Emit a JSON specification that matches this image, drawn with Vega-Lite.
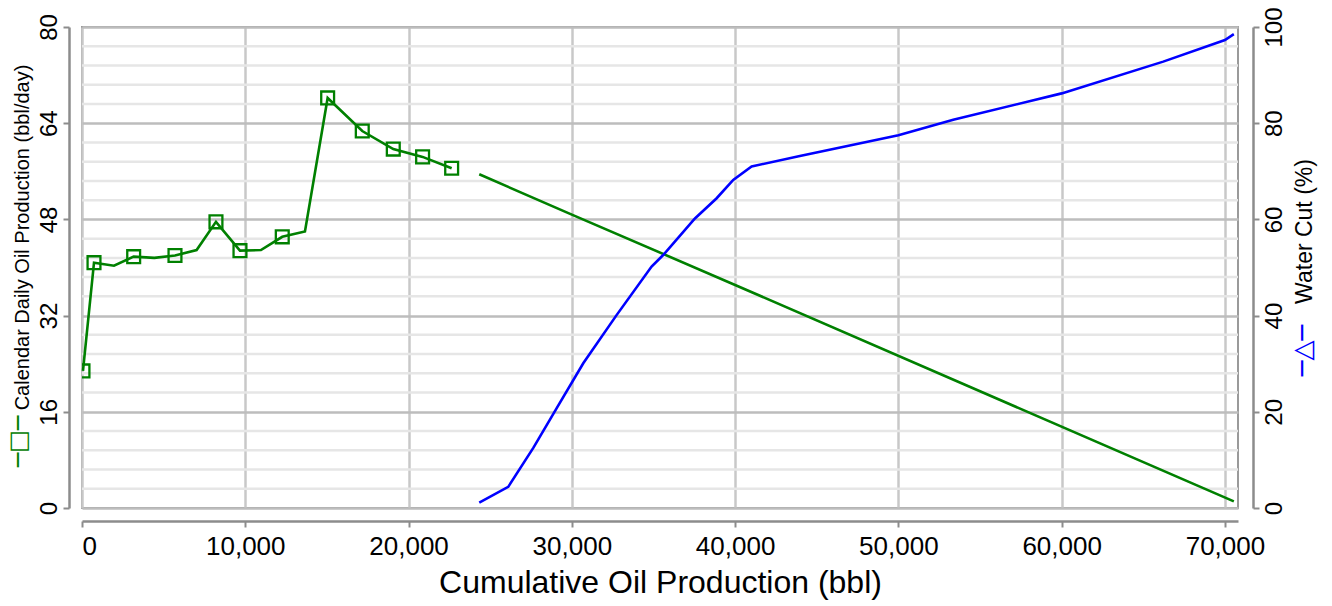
{
  "$schema": "https://vega.github.io/schema/vega-lite/v6.json",
  "width": 1156,
  "height": 481,
  "autosize": "none",
  "padding": {"left": 82, "top": 27, "right": 94, "bottom": 98},
  "config": {
    "font": "Liberation Sans",
    "view": {"stroke": "#9a9a9a", "strokeWidth": 2},
    "axis": {
      "domainColor": "#8c8c8c", "domainWidth": 2.5,
      "tickColor": "#8c8c8c", "tickWidth": 2, "tickSize": 6,
      "labelColor": "#000000", "titleColor": "#000000",
      "titleFontWeight": "normal", "labelFont": "Liberation Sans", "titleFont": "Liberation Sans"
    }
  },
  "datasets": {
    "minor": [
      {"g": 3.2}, {"g": 6.4}, {"g": 9.6}, {"g": 12.8},
      {"g": 19.2}, {"g": 22.4}, {"g": 25.6}, {"g": 28.8},
      {"g": 35.2}, {"g": 38.4}, {"g": 41.6}, {"g": 44.8},
      {"g": 51.2}, {"g": 54.4}, {"g": 57.6}, {"g": 60.8},
      {"g": 67.2}, {"g": 70.4}, {"g": 73.6}, {"g": 76.8}
    ],
    "hist": [
      {"cum": 60, "rate": 22.8, "marker": true},
      {"cum": 735, "rate": 40.8, "marker": true},
      {"cum": 1960, "rate": 40.3, "marker": false},
      {"cum": 3165, "rate": 41.8, "marker": true},
      {"cum": 4430, "rate": 41.6, "marker": false},
      {"cum": 5695, "rate": 42.0, "marker": true},
      {"cum": 7020, "rate": 42.9, "marker": false},
      {"cum": 8205, "rate": 47.6, "marker": true},
      {"cum": 9675, "rate": 42.8, "marker": true},
      {"cum": 10960, "rate": 42.9, "marker": false},
      {"cum": 12265, "rate": 45.1, "marker": true},
      {"cum": 13655, "rate": 46.0, "marker": false},
      {"cum": 15045, "rate": 68.2, "marker": true},
      {"cum": 17165, "rate": 62.7, "marker": true},
      {"cum": 19065, "rate": 59.7, "marker": true},
      {"cum": 20860, "rate": 58.4, "marker": true},
      {"cum": 22640, "rate": 56.5, "marker": true}
    ],
    "fc": [
      {"cum": 24330, "rate": 55.5},
      {"cum": 30000, "rate": 48.8},
      {"cum": 40000, "rate": 37.1},
      {"cum": 70545, "rate": 1.1}
    ],
    "wc": [
      {"cum": 24330, "wc": 1.1},
      {"cum": 26105, "wc": 4.4},
      {"cum": 27640, "wc": 12.5},
      {"cum": 29065, "wc": 20.7},
      {"cum": 30700, "wc": 30.1},
      {"cum": 32740, "wc": 40.1},
      {"cum": 34885, "wc": 50.2},
      {"cum": 35595, "wc": 52.6},
      {"cum": 37540, "wc": 60.2},
      {"cum": 38870, "wc": 64.4},
      {"cum": 39885, "wc": 68.2},
      {"cum": 41010, "wc": 71.0},
      {"cum": 43965, "wc": 73.2},
      {"cum": 50000, "wc": 77.5},
      {"cum": 53360, "wc": 80.7},
      {"cum": 60000, "wc": 86.2},
      {"cum": 66220, "wc": 92.8},
      {"cum": 70000, "wc": 97.3},
      {"cum": 70545, "wc": 98.5}
    ]
  },
  "layer": [
    {
      "layer": [
        {
          "data": {"name": "minor"},
          "mark": {"type": "rule", "color": "#e6e6e6", "strokeWidth": 2.5},
          "encoding": {
            "y": {"field": "g", "type": "quantitative"}
          }
        },
        {
          "data": {"name": "hist"},
          "mark": {"type": "line", "color": "#008000", "strokeWidth": 2.6},
          "encoding": {
            "x": {"field": "cum", "type": "quantitative", "scale": {"domain": [0, 70800], "nice": false, "zero": false},
              "axis": {"title": "Cumulative Oil Production (bbl)", "values": [0, 10000, 20000, 30000, 40000, 50000, 60000, 70000], "format": ",.0f", "offset": 13, "labelFontSize": 26, "titleFontSize": 32, "gridColor": "#c8c8c8", "gridWidth": 2.5, "labelPadding": 6, "titlePadding": 8}},
            "y": {"field": "rate", "type": "quantitative", "scale": {"domain": [0, 80], "nice": false},
              "axis": {
                "title": "Calendar Daily Oil Production (bbl/day)",
                "values": [0, 16, 32, 48, 64, 80],
                "format": ".0f",
                "labelOverlap": false,
                "gridColor": "#bdbdbd",
                "gridWidth": 2.5,
                "labelAngle": -90,
                "offset": 13,
                "labelFontSize": 24,
                "labelPadding": 2,
                "titleFontSize": 20,
                "titleAngle": -90,
                "titleAlign": "center",
                "titleBaseline": "middle",
                "titleX": -47,
                "titleY": 210
              }}
          }
        },
        {
          "data": {"name": "hist"},
          "transform": [{"filter": "datum.marker"}],
          "mark": {"type": "point", "shape": "square", "filled": false, "color": "#008000", "strokeWidth": 2.3, "size": 165, "opacity": 1, "clip": true},
          "encoding": {
            "x": {"field": "cum", "type": "quantitative"},
            "y": {"field": "rate", "type": "quantitative"}
          }
        },
        {
          "data": {"name": "fc"},
          "mark": {"type": "line", "color": "#008000", "strokeWidth": 2.6},
          "encoding": {
            "x": {"field": "cum", "type": "quantitative"},
            "y": {"field": "rate", "type": "quantitative"}
          }
        }
      ]
    },
    {
      "data": {"name": "wc"},
      "mark": {"type": "line", "color": "#0000ff", "strokeWidth": 2.6},
      "encoding": {
        "x": {"field": "cum", "type": "quantitative"},
        "y": {"field": "wc", "type": "quantitative", "scale": {"domain": [0, 100], "nice": false},
          "axis": {"orient": "right", "title": "Water Cut (%)", "values": [0, 20, 40, 60, 80, 100], "format": ".0f", "grid": false, "labelAngle": -90, "offset": 15, "labelFontSize": 24, "labelPadding": 3, "titleFontSize": 23, "titleAngle": -90, "titleAlign": "center", "titleBaseline": "middle", "titleX": 51, "titleY": 204}}
      }
    },
    {
      "data": {"name": "hist"},
      "mark": {"type": "line", "opacity": 0},
      "encoding": {
        "x": {"field": "cum", "type": "quantitative"},
        "y": {"field": "rate", "type": "quantitative",
          "axis": {"orient": "left", "title": "─□─", "titleColor": "#008000", "titleFont": "DejaVu Sans", "titleFontSize": 24, "domain": false, "ticks": false, "labels": false, "grid": false, "titleX": -64, "titleY": 414, "titleAngle": -90, "titleAlign": "center", "titleBaseline": "middle"}}
      }
    },
    {
      "data": {"name": "wc"},
      "mark": {"type": "line", "opacity": 0},
      "encoding": {
        "x": {"field": "cum", "type": "quantitative"},
        "y": {"field": "wc", "type": "quantitative",
          "axis": {"orient": "right", "title": "─△─", "titleColor": "#0000ff", "titleFont": "DejaVu Sans", "titleFontSize": 26, "domain": false, "ticks": false, "labels": false, "grid": false, "titleX": 64, "titleY": 323, "titleAngle": -90, "titleAlign": "center", "titleBaseline": "middle"}}
      }
    }
  ],
  "resolve": {"scale": {"y": "independent"}}
}
